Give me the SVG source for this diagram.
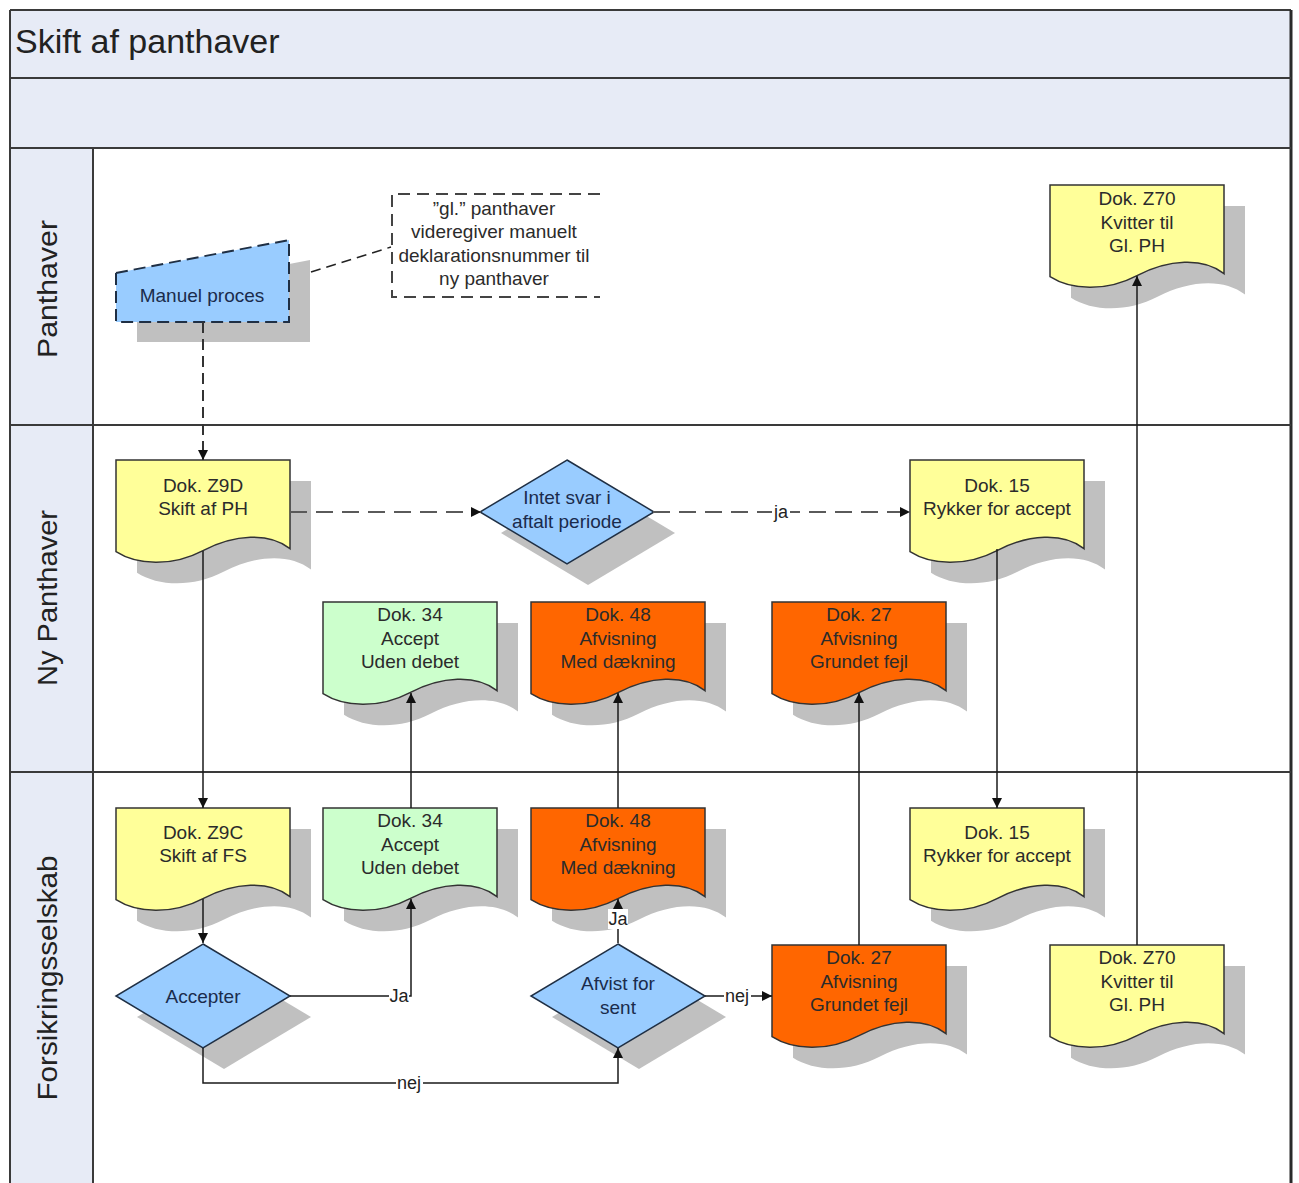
<svg xmlns="http://www.w3.org/2000/svg" xmlns:xlink="http://www.w3.org/1999/xlink" width="1299" height="1183" viewBox="0 0 1299 1183">
<style>
text{font-family:"Liberation Sans",Arial,sans-serif;}
.band{fill:#e7ebf6;stroke:none;}
.frame{fill:none;stroke:#3a3a3a;stroke-width:2;}
.shadow{fill:#c0c0c0;stroke:none;}
.yel{fill:#ffff99;stroke:#333;stroke-width:1.5;}
.grn{fill:#ccffcc;stroke:#333;stroke-width:1.5;}
.org{fill:#ff6600;stroke:#333;stroke-width:1.5;}
.blu{fill:#99ccff;stroke:#1f2f44;stroke-width:1.5;}
.t{font-size:19px;fill:#2b2b2b;text-anchor:middle;}
.tb{font-size:19px;fill:#1a2b4c;text-anchor:middle;}
.lane{font-size:27px;fill:#222;text-anchor:middle;}
.lbl{font-size:18px;fill:#222;text-anchor:middle;}
.conn{fill:none;stroke:#1a1a1a;stroke-width:1.5;}
.dash{fill:none;stroke:#5a5a5a;stroke-width:2.2;stroke-dasharray:17 9;}
.lbg{fill:#fff;stroke:none;}
</style>
<defs>
<path id="doc" d="M0,0 H174 V88.6 C153.1,72.1 118.3,74.2 87,90.6 C55.7,107.1 20.9,105.1 0,91.7 Z"/>
<path id="dia" d="M0,-52 L87,0 L0,52 L-87,0 Z"/>
<marker id="arr" viewBox="0 0 10 10" refX="10" refY="5" markerWidth="12" markerHeight="10" markerUnits="userSpaceOnUse" orient="auto">
<path d="M0,0 L10,5 L0,10 z" fill="#111"/>
</marker>
</defs>

<!-- pool and lanes -->
<g id="pool">
<rect x="0" y="0" width="1299" height="1183" fill="#fff"/>
<rect class="band" x="10" y="10" width="1281" height="138"/>
<rect class="band" x="10" y="148" width="83" height="1040"/>
<line class="frame" x1="10" y1="10" x2="1291" y2="10"/>
<line class="frame" x1="10" y1="10" x2="10" y2="1183"/>
<line x1="1291" y1="10" x2="1291" y2="1183" stroke="#2a2a2a" stroke-width="3"/>
<line class="frame" x1="10" y1="78" x2="1291" y2="78"/>
<line class="frame" x1="10" y1="148" x2="1291" y2="148"/>
<line class="frame" x1="10" y1="425" x2="1291" y2="425"/>
<line class="frame" x1="10" y1="772" x2="1291" y2="772"/>
<line class="frame" x1="93" y1="148" x2="93" y2="1183"/>
<text x="15" y="53" font-size="34" fill="#222">Skift af panthaver</text>
<text class="lane" transform="translate(57,289) rotate(-90)" textLength="138" lengthAdjust="spacingAndGlyphs">Panthaver</text>
<text class="lane" transform="translate(57,598) rotate(-90)" textLength="176" lengthAdjust="spacingAndGlyphs">Ny Panthaver</text>
<text class="lane" transform="translate(57,978) rotate(-90)" textLength="245" lengthAdjust="spacingAndGlyphs">Forsikringsselskab</text>
</g>

<!-- Panthaver lane -->
<g id="manuel">
<polygon class="shadow" points="137,293 310,260 310,342 137,342"/>
<polygon points="116,273 289,240 289,322 116,322" fill="#99ccff" stroke="#1f2f44" stroke-width="2" stroke-dasharray="12 6"/>
<text class="tb" x="202" y="302">Manuel proces</text>
</g>
<g id="note">
<path d="M600,194 H392 V297 H600" fill="none" stroke="#444" stroke-width="2" stroke-dasharray="12 7"/>
<text class="t" font-size="19.5" x="494" y="215">”gl.” panthaver</text>
<text class="t" font-size="19.5" x="494" y="238">videregiver manuelt</text>
<text class="t" font-size="19.5" x="494" y="262">deklarationsnummer til</text>
<text class="t" font-size="19.5" x="494" y="285">ny panthaver</text>
</g>
<g id="z70a">
<use href="#doc" x="1071" y="206" class="shadow"/>
<use href="#doc" x="1050" y="185" class="yel"/>
<text class="t" x="1137" y="205">Dok. Z70</text>
<text class="t" x="1137" y="229">Kvitter til</text>
<text class="t" x="1137" y="252">Gl. PH</text>
</g>

<!-- Ny Panthaver lane -->
<g id="z9d">
<use href="#doc" x="137" y="481" class="shadow"/>
<use href="#doc" x="116" y="460" class="yel"/>
<text class="t" x="203" y="492">Dok. Z9D</text>
<text class="t" x="203" y="515">Skift af PH</text>
</g>
<g id="intet">
<use href="#dia" x="588" y="533" class="shadow"/>
<use href="#dia" x="567" y="512" class="blu"/>
<text class="tb" x="567" y="504">Intet svar i</text>
<text class="tb" x="567" y="528">aftalt periode</text>
</g>
<g id="d15a">
<use href="#doc" x="931" y="481" class="shadow"/>
<use href="#doc" x="910" y="460" class="yel"/>
<text class="t" x="997" y="492">Dok. 15</text>
<text class="t" x="997" y="515">Rykker for accept</text>
</g>
<g id="d34a">
<use href="#doc" x="344" y="623" class="shadow"/>
<use href="#doc" x="323" y="602" class="grn"/>
<text class="t" x="410" y="621">Dok. 34</text>
<text class="t" x="410" y="645">Accept</text>
<text class="t" x="410" y="668">Uden debet</text>
</g>
<g id="d48a">
<use href="#doc" x="552" y="623" class="shadow"/>
<use href="#doc" x="531" y="602" class="org"/>
<text class="t" x="618" y="621">Dok. 48</text>
<text class="t" x="618" y="645">Afvisning</text>
<text class="t" x="618" y="668">Med dækning</text>
</g>
<g id="d27a">
<use href="#doc" x="793" y="623" class="shadow"/>
<use href="#doc" x="772" y="602" class="org"/>
<text class="t" x="859" y="621">Dok. 27</text>
<text class="t" x="859" y="645">Afvisning</text>
<text class="t" x="859" y="668">Grundet fejl</text>
</g>

<!-- Forsikringsselskab lane -->
<g id="z9c">
<use href="#doc" x="137" y="829" class="shadow"/>
<use href="#doc" x="116" y="808" class="yel"/>
<text class="t" x="203" y="839">Dok. Z9C</text>
<text class="t" x="203" y="862">Skift af FS</text>
</g>
<g id="d34b">
<use href="#doc" x="344" y="829" class="shadow"/>
<use href="#doc" x="323" y="808" class="grn"/>
<text class="t" x="410" y="827">Dok. 34</text>
<text class="t" x="410" y="851">Accept</text>
<text class="t" x="410" y="874">Uden debet</text>
</g>
<g id="d48b">
<use href="#doc" x="552" y="829" class="shadow"/>
<use href="#doc" x="531" y="808" class="org"/>
<text class="t" x="618" y="827">Dok. 48</text>
<text class="t" x="618" y="851">Afvisning</text>
<text class="t" x="618" y="874">Med dækning</text>
</g>
<g id="d15b">
<use href="#doc" x="931" y="829" class="shadow"/>
<use href="#doc" x="910" y="808" class="yel"/>
<text class="t" x="997" y="839">Dok. 15</text>
<text class="t" x="997" y="862">Rykker for accept</text>
</g>
<g id="accepter">
<use href="#dia" x="224" y="1017" class="shadow"/>
<use href="#dia" x="203" y="996" class="blu"/>
<text class="tb" x="203" y="1003">Accepter</text>
</g>
<g id="afvist">
<use href="#dia" x="639" y="1017" class="shadow"/>
<use href="#dia" x="618" y="996" class="blu"/>
<text class="tb" x="618" y="990">Afvist for</text>
<text class="tb" x="618" y="1014">sent</text>
</g>
<g id="d27b">
<use href="#doc" x="793" y="966" class="shadow"/>
<use href="#doc" x="772" y="945" class="org"/>
<text class="t" x="859" y="964">Dok. 27</text>
<text class="t" x="859" y="988">Afvisning</text>
<text class="t" x="859" y="1011">Grundet fejl</text>
</g>
<g id="z70b">
<use href="#doc" x="1071" y="966" class="shadow"/>
<use href="#doc" x="1050" y="945" class="yel"/>
<text class="t" x="1137" y="964">Dok. Z70</text>
<text class="t" x="1137" y="988">Kvitter til</text>
<text class="t" x="1137" y="1011">Gl. PH</text>
</g>

<!-- connectors -->
<g id="connectors">
<path d="M311,272 L391,247" fill="none" stroke="#222" stroke-width="1.5" stroke-dasharray="10 6"/>
<path d="M203,322 V460" fill="none" stroke="#333" stroke-width="2" stroke-dasharray="11 6" marker-end="url(#arr)"/>
<path class="dash" d="M290,512 H481" marker-end="url(#arr)"/>
<path class="dash" d="M653,512 H910" marker-end="url(#arr)"/>
<path class="conn" d="M203,551 V808" marker-end="url(#arr)"/>
<path class="conn" d="M997,549 V808" marker-end="url(#arr)"/>
<path class="conn" d="M203,899 V943" marker-end="url(#arr)"/>
<path class="conn" d="M290,996 H411 V899" marker-end="url(#arr)"/>
<path class="conn" d="M411,808 V693" marker-end="url(#arr)"/>
<path class="conn" d="M618,943 V899" marker-end="url(#arr)"/>
<path class="conn" d="M618,808 V693" marker-end="url(#arr)"/>
<path class="conn" d="M705,996 H772" marker-end="url(#arr)"/>
<path class="conn" d="M859,945 V693" marker-end="url(#arr)"/>
<path class="conn" d="M203,1048 V1083 H618 V1048" marker-end="url(#arr)"/>
<path class="conn" d="M1137,945 V276" marker-end="url(#arr)"/>
<rect class="lbg" x="772" y="502" width="18" height="20"/>
<text class="lbl" x="781" y="518">ja</text>
<rect class="lbg" x="389" y="986" width="20" height="20"/>
<text class="lbl" x="399" y="1002">Ja</text>
<rect class="lbg" x="608" y="909" width="20" height="20"/>
<text class="lbl" x="618" y="925">Ja</text>
<rect class="lbg" x="724" y="986" width="27" height="20"/>
<text class="lbl" x="737" y="1002">nej</text>
<rect class="lbg" x="396" y="1073" width="27" height="20"/>
<text class="lbl" x="409" y="1089">nej</text>
</g>
</svg>
